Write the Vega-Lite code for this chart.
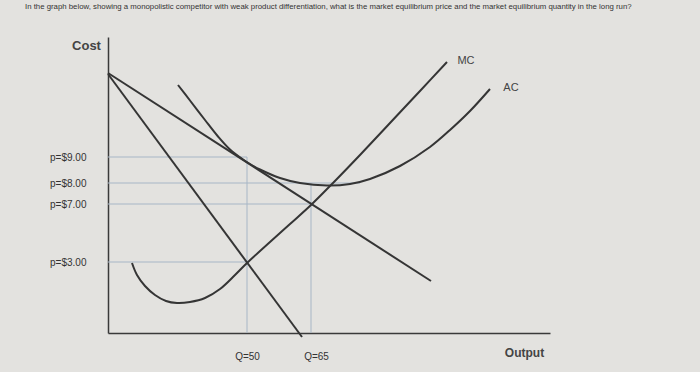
{
  "$schema": "https://vega.github.io/schema/vega-lite/v6.json",
  "width": 442,
  "height": 296,
  "autosize": "none",
  "padding": {"left": 108, "top": 37, "right": 150, "bottom": 39},
  "background": "#e3e2df",
  "config": {"view": {"stroke": null}, "font": "Liberation Sans"},
  "title": {
    "text": "In the graph below, showing a monopolistic competitor with weak product differentiation, what is the market equilibrium price and the market equilibrium quantity in the long run?",
    "anchor": "start",
    "frame": "group",
    "align": "left",
    "dx": -83,
    "offset": 26,
    "fontSize": 7.8,
    "fontWeight": "normal",
    "color": "#333333"
  },
  "datasets": {
    "curves": [
      {"series": "D", "x": 0, "y": 260},
      {"series": "D", "x": 323, "y": 52},
      {"series": "MR", "x": 0, "y": 259},
      {"series": "MR", "x": 194, "y": -4},
      {"series": "MC", "x": 24, "y": 70},
      {"series": "MC", "x": 29, "y": 58},
      {"series": "MC", "x": 37, "y": 47},
      {"series": "MC", "x": 47, "y": 38},
      {"series": "MC", "x": 58, "y": 32},
      {"series": "MC", "x": 69, "y": 30},
      {"series": "MC", "x": 82, "y": 31},
      {"series": "MC", "x": 97, "y": 35},
      {"series": "MC", "x": 112, "y": 44},
      {"series": "MC", "x": 127, "y": 58},
      {"series": "MC", "x": 139, "y": 70},
      {"series": "MC", "x": 162, "y": 91},
      {"series": "MC", "x": 182, "y": 109},
      {"series": "MC", "x": 203, "y": 128},
      {"series": "MC", "x": 225, "y": 150},
      {"series": "MC", "x": 252, "y": 178},
      {"series": "MC", "x": 282, "y": 210},
      {"series": "MC", "x": 312, "y": 242},
      {"series": "MC", "x": 339, "y": 271},
      {"series": "AC", "x": 70, "y": 248},
      {"series": "AC", "x": 82, "y": 232.5},
      {"series": "AC", "x": 97, "y": 213},
      {"series": "AC", "x": 110, "y": 196.5},
      {"series": "AC", "x": 122, "y": 183.5},
      {"series": "AC", "x": 135, "y": 173.5},
      {"series": "AC", "x": 142, "y": 169},
      {"series": "AC", "x": 152, "y": 163.5},
      {"series": "AC", "x": 172, "y": 155},
      {"series": "AC", "x": 192, "y": 150},
      {"series": "AC", "x": 219, "y": 147.5},
      {"series": "AC", "x": 242, "y": 149},
      {"series": "AC", "x": 262, "y": 154},
      {"series": "AC", "x": 292, "y": 167},
      {"series": "AC", "x": 322, "y": 186},
      {"series": "AC", "x": 342, "y": 203},
      {"series": "AC", "x": 362, "y": 222},
      {"series": "AC", "x": 382, "y": 244}
    ],
    "guides": [
      {"x": 0, "x2": 139, "y": 176, "y2": 176},
      {"x": 0, "x2": 252, "y": 150, "y2": 150},
      {"x": 0, "x2": 203, "y": 129, "y2": 129},
      {"x": 0, "x2": 139, "y": 71, "y2": 71},
      {"x": 139, "x2": 139, "y": 0, "y2": 176},
      {"x": 203, "x2": 203, "y": 0, "y2": 150}
    ],
    "labels": [
      {"x": 358, "y": 272, "text": "MC"},
      {"x": 403, "y": 245, "text": "AC"}
    ]
  },
  "layer": [
    {
      "data": {"name": "guides"},
      "mark": {"type": "rule", "color": "#a7b6c6", "strokeWidth": 1},
      "encoding": {
        "x": {"field": "x", "type": "quantitative", "scale": {"domain": [0, 442], "nice": false, "zero": false},
          "axis": {
            "values": [139, 208],
            "labelExpr": "datum.value == 139 ? 'Q=50' : 'Q=65'",
            "ticks": false,
            "grid": false,
            "labelPadding": 18,
            "labelFontSize": 10,
            "labelColor": "#333333",
            "domainColor": "#3a3a3a",
            "domainWidth": 1.5,
            "title": "Output",
            "titleFontSize": 12,
            "titleFontWeight": "bold",
            "titleColor": "#444444",
            "titleX": 416,
            "titleY": 19,
            "titleAlign": "center",
            "titleBaseline": "middle"
          }},
        "x2": {"field": "x2"},
        "y": {"field": "y", "type": "quantitative", "scale": {"domain": [0, 296], "nice": false, "zero": false},
          "axis": {
            "values": [71, 129, 150, 176],
            "labelExpr": "datum.value == 176 ? 'p=$9.00' : datum.value == 150 ? 'p=$8.00' : datum.value == 129 ? 'p=$7.00' : 'p=$3.00'",
            "ticks": false,
            "grid": false,
            "labelPadding": 22,
            "labelFontSize": 10,
            "labelColor": "#333333",
            "domainColor": "#3a3a3a",
            "domainWidth": 1.5,
            "title": "Cost",
            "titleAngle": 0,
            "titleFontSize": 13,
            "titleFontWeight": "bold",
            "titleColor": "#444444",
            "titleX": -22,
            "titleY": 8,
            "titleAlign": "center",
            "titleBaseline": "middle"
          }},
        "y2": {"field": "y2"}
      }
    },
    {
      "data": {"name": "curves"},
      "mark": {"type": "line", "interpolate": "catmull-rom", "color": "#353535", "strokeWidth": 2, "clip": false},
      "encoding": {
        "x": {"field": "x", "type": "quantitative"},
        "y": {"field": "y", "type": "quantitative"},
        "detail": {"field": "series"}
      }
    },
    {
      "data": {"name": "labels"},
      "mark": {"type": "text", "fontSize": 11, "color": "#444444", "align": "center", "baseline": "middle"},
      "encoding": {
        "x": {"field": "x", "type": "quantitative"},
        "y": {"field": "y", "type": "quantitative"},
        "text": {"field": "text"}
      }
    }
  ]
}
